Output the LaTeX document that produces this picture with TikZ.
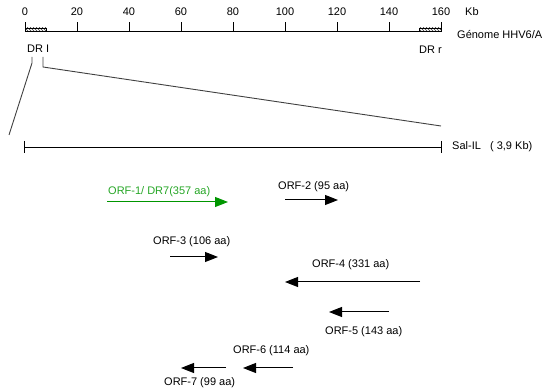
\documentclass[tikz,border=0pt]{standalone}
\usepackage{fontspec}
\setmainfont{Liberation Sans}
\usetikzlibrary{arrows.meta,patterns}
\definecolor{orfgreen}{RGB}{0,150,0}
\begin{document}
\begin{tikzpicture}[x=1pt,y=-1pt,
  lbl/.style={inner sep=0pt,font=\fontsize{11}{12}\selectfont},
  axisline/.style={line width=0.9pt,black},
  conn/.style={line width=0.9pt,black!75},
  orf/.style={line width=1pt,-{Triangle[length=13pt,width=10pt]}},
  hatch/.style={draw=black,line width=0.6pt,pattern=north west lines,pattern color=black!80}]
\useasboundingbox (0,0) rectangle (550,390);
% genome axis
\foreach \v [count=\i from 0] in {0,20,...,160}{
  \coordinate (t\i) at (25+\i*52,31);
  \draw[axisline] (t\i) -- ++(0,-9);
  \node[lbl] (n\i) at (25+\i*52,12) {\v};
}
\draw[axisline] (t0) -- (t8);
\draw[hatch] (25,28) rectangle (46,31);
\draw[hatch] (419,28) rectangle (441,31);
\node[lbl,anchor=west] (kb) at (465,12) {Kb};
\node[lbl,anchor=west] (genome) at (457,35) {Génome HHV6/A};
\node[lbl,anchor=west] (drr) at (419,50) {DR r};
\node[lbl,anchor=west] (drl) at (27,49) {DR I};
% Sal-IL bar
\coordinate (sa) at (24,147);
\coordinate (sb) at (441,147);
\draw[axisline] (sa) -- (sb);
\draw[axisline] (24,141) -- (24,153);
\draw[axisline] (441,141) -- (441,153);
\node[lbl,anchor=west] (sal) at (452,147) {Sal-IL \ \ ( 3,9 Kb)};
% zoom connectors
\coordinate (zl) at (9,135);
\coordinate (zr) at (441,126);
\draw[conn] (32,57) -- (32,63) -- (zl);
\draw[conn] (43,57) -- (43,67) -- (zr);
% ORFs
\coordinate (o1a) at (107,202); \coordinate (o1b) at (228,202);
\draw[orf,orfgreen] (o1a) -- (o1b);
\node[lbl,anchor=west,text=orfgreen!85!white] (l1) at (108,192) {ORF-1/ DR7(357 aa)};
\coordinate (o2a) at (285,200); \coordinate (o2b) at (338,200);
\draw[orf] (o2a) -- (o2b);
\node[lbl,anchor=west] (l2) at (278,187) {ORF-2 (95 aa)};
\coordinate (o3a) at (170,257); \coordinate (o3b) at (218,257);
\draw[orf] (o3a) -- (o3b);
\node[lbl,anchor=west] (l3) at (153,242) {ORF-3 (106 aa)};
\coordinate (o4a) at (420,282); \coordinate (o4b) at (285,282);
\draw[orf] (o4a) -- (o4b);
\node[lbl,anchor=west] (l4) at (312,265) {ORF-4 (331 aa)};
\coordinate (o5a) at (389,312); \coordinate (o5b) at (329,312);
\draw[orf] (o5a) -- (o5b);
\node[lbl,anchor=west] (l5) at (325,332) {ORF-5 (143 aa)};
\coordinate (o6a) at (293,368); \coordinate (o6b) at (243,368);
\draw[orf] (o6a) -- (o6b);
\node[lbl,anchor=west] (l6) at (233,351) {ORF-6 (114 aa)};
\coordinate (o7a) at (226,368); \coordinate (o7b) at (181,368);
\draw[orf] (o7a) -- (o7b);
\node[lbl,anchor=west] (l7) at (164,383) {ORF-7 (99 aa)};
\end{tikzpicture}
\end{document}
